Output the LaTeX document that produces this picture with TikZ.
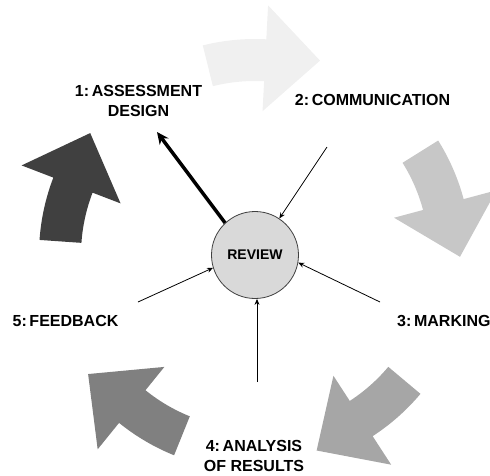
\documentclass[tikz,border=0pt]{standalone}
\usepackage{fontspec}
\setmainfont{Liberation Sans}
\usetikzlibrary{arrows.meta}

\definecolor{stepA}{gray}{0.94}
\definecolor{stepB}{gray}{0.78}
\definecolor{stepC}{gray}{0.65}
\definecolor{stepD}{gray}{0.50}
\definecolor{stepE}{gray}{0.25}
\definecolor{reviewgray}{gray}{0.85}

\begin{document}
\begin{tikzpicture}[x=1pt,y=1pt,>={Stealth[length=6pt,width=5pt]},
  every text node part/.style={align=center},
  every node/.style={inner sep=0pt,font=\bfseries\fontsize{16}{20}\selectfont},
  link/.style={->,line width=0.8pt},
  mainlink/.style={line width=3.5pt,-{Stealth[length=12pt,width=11pt]}}]

\useasboundingbox (-255,-220) rectangle (235,255);

%%%%%%%%%%%%%%%%%%%%%%%%%%%%%%%%%%%%%%

\fill[stepA] (104:174) arc[start angle=104,end angle=87,radius=174] -- (87:144) -- (71.5:205)
  -- (87:250) -- (87:216) arc[start angle=87,end angle=104,radius=216] -- cycle;
\fill[stepB] (32:174) arc[start angle=32,end angle=15,radius=174] -- (15:144) -- (-0.5:205)
  -- (15:250) -- (15:216) arc[start angle=15,end angle=32,radius=216] -- cycle;
\fill[stepC] (-40:174) arc[start angle=-40,end angle=-57,radius=174] -- (-57:144) -- (-72.5:205)
  -- (-57:250) -- (-57:216) arc[start angle=-57,end angle=-40,radius=216] -- cycle;
\fill[stepD] (-112:174) arc[start angle=-112,end angle=-129,radius=174] -- (-129:144) -- (-144.5:205)
  -- (-129:250) -- (-129:216) arc[start angle=-129,end angle=-112,radius=216] -- cycle;
\fill[stepE] (176:174) arc[start angle=176,end angle=159,radius=174] -- (159:144) -- (143.5:205)
  -- (159:250) -- (159:216) arc[start angle=159,end angle=176,radius=216] -- cycle;

%%%%%%%%%%%%%%%%%%%%%%%%%%%%%%%%%%%%%%

\node(design) at (-116.5,154) {1:\,ASSESSMENT\\DESIGN};
\node(comm) at (117.5,155) {2:\,COMMUNICATION};
\node[anchor=west](marking) at (142,-66) {3:\,MARKING};
\node(analysis) at (-1,-201) {4:\,ANALYSIS\\OF RESULTS};
\node(feedback) at (-189.5,-66) {5:\,FEEDBACK};

%%%%%%%%%%%%%%%%%%%%%%%%%%%%%%%%%%%%%%

\node[circle,draw=black!75,fill=reviewgray,line width=0.8pt,minimum size=87pt,
  font=\bfseries\fontsize{14}{16}\selectfont](review) at (0,0) {REVIEW};

\coordinate (c1) at (-98,123);
\coordinate (c2) at (72,108);
\coordinate (c3) at (125,-47);
\coordinate (c4) at (2,-127);
\coordinate (c5) at (-117,-47);

\draw[mainlink] (review.133) -- (c1);
\draw[link] (c2) -- (review);
\draw[link] (c3) -- (review.350);
\draw[link] (c4) -- (c4 |- review.south);
\draw[link] (c5) -- (review.197);

\end{tikzpicture}
\end{document}
